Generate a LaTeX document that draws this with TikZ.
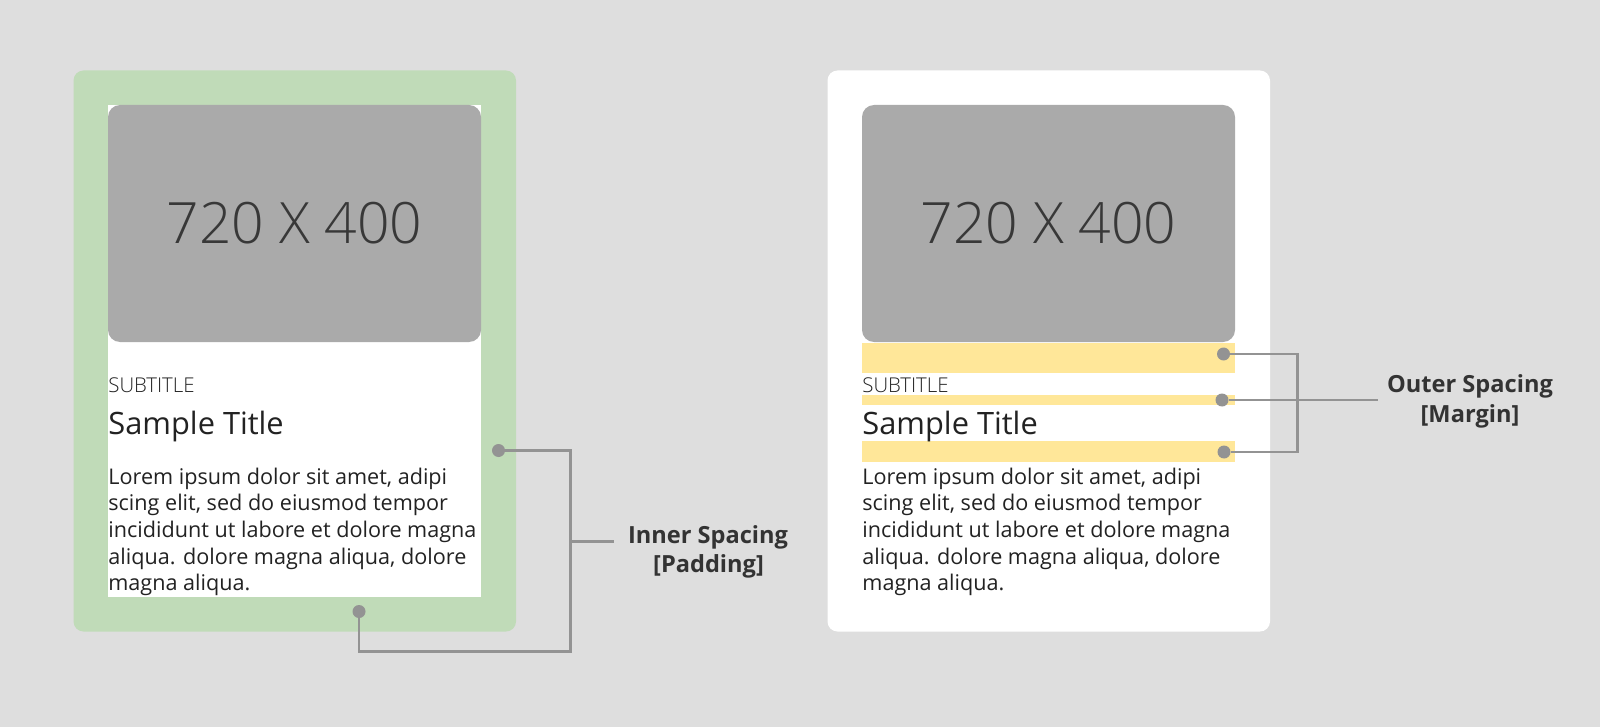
\documentclass[tikz,border=0pt]{standalone}
\usepackage{fontspec}
\setmainfont{Open Sans}
\newfontfamily\lightfont{Open Sans Light}

\definecolor{bg}{HTML}{DEDEDE}
\definecolor{padgreen}{HTML}{C0DBB8}
\definecolor{imggray}{HTML}{AAAAAA}
\definecolor{margyellow}{HTML}{FFE799}
\definecolor{leadgray}{HTML}{939393}
\definecolor{ink}{HTML}{222222}
\definecolor{labelink}{HTML}{333333}

\begin{document}
\begin{tikzpicture}[x=0.5pt,y=-0.5pt,
	photo/.style={fill=imggray,rounded corners=6pt},
	gap/.style={fill=margyellow},
	dot/.style={circle,fill=leadgray,inner sep=0pt,minimum size=6.5pt},
	lead/.style={draw=leadgray,line width=1.1pt},
	sizetext/.style={inner sep=0pt,font=\lightfont\fontsize{28.5}{30}\selectfont,text=ink!90},
	subtext/.style={anchor=base west,inner sep=0pt,font=\lightfont\fontsize{10.2}{12}\selectfont,text=ink},
	titletext/.style={anchor=base west,inner sep=0pt,font=\fontsize{15.4}{18}\selectfont,text=ink},
	bodytext/.style={anchor=base west,inner sep=0pt,font=\fontsize{10.8}{13}\selectfont,text=ink},
	labeltext/.style={anchor=base,inner sep=0pt,font=\bfseries\fontsize{11.8}{14}\selectfont,text=labelink}]
	
	% canvas
	\useasboundingbox (0,0) rectangle (1600,727);
	\fill[bg] (0,0) rectangle (1600,727);
	
	% left card (padding)
	\fill[padgreen,rounded corners=5pt] (73.5,70.5) rectangle (516,631.5);
	\fill[white] (108,105) rectangle (481,596.5);
	
	% right card (margin)
	\fill[white,rounded corners=5pt] (827.5,70.5) rectangle (1270,631.5);
	\fill[gap] (862,343) rectangle (1235,372.5);
	\fill[gap] (862,395) rectangle (1235,405);
	\fill[gap] (862,441) rectangle (1235,461.5);
	
	% card contents
	\foreach \cx/\cn in {108/L,862/R}{
		\fill[photo] (\cx,105) rectangle ++(373,237);
		\node[sizetext] (size\cn) at (\cx+186.5,223.5) {720 X 400};
		\node[subtext] (sub\cn) at (\cx,392) {SUBTITLE};
		\node[titletext] (title\cn) at (\cx,434) {Sample Title};
		\foreach \ln [count=\i from 0] in {{Lorem ipsum dolor sit amet, adipi},{scing elit, sed do eiusmod tempor},{incididunt ut labore et dolore magna},{aliqua. dolore magna aliqua, dolore},{magna aliqua.}}
			\node[bodytext] (body\cn\i) at (\cx,484+26.7*\i) {\ln};
	}
	
	% padding leads
	\node[dot] (padR) at (498.5,450.5) {};
	\node[dot] (padB) at (359,611.5) {};
	\coordinate (padJ) at (570.5,651.5);
	\coordinate (padM) at (570.5,541.5);
	\coordinate (padE) at (613.5,541.5);
	\draw[lead] (padR.east) -| (padJ) -| (padB.south);
	\draw[lead] (padM) -- (padE);
	\node[labeltext] (padLbl) at (708,543) {Inner Spacing};
	\node[labeltext] (padSub) at (708.5,572) {[Padding]};
	
	% margin leads
	\node[dot] (marA) at (1223.5,354) {};
	\node[dot] (marB) at (1222,400) {};
	\node[dot] (marC) at (1224,452) {};
	\coordinate (marJ) at (1297.5,400);
	\coordinate (marE) at (1378,400);
	\draw[lead] (marA.east) -| (marJ) |- (marC.east);
	\draw[lead] (marB.east) -- (marE);
	\node[labeltext] (marLbl) at (1470,392) {Outer Spacing};
	\node[labeltext] (marSub) at (1470,422) {[Margin]};
	
\end{tikzpicture}
\end{document}
